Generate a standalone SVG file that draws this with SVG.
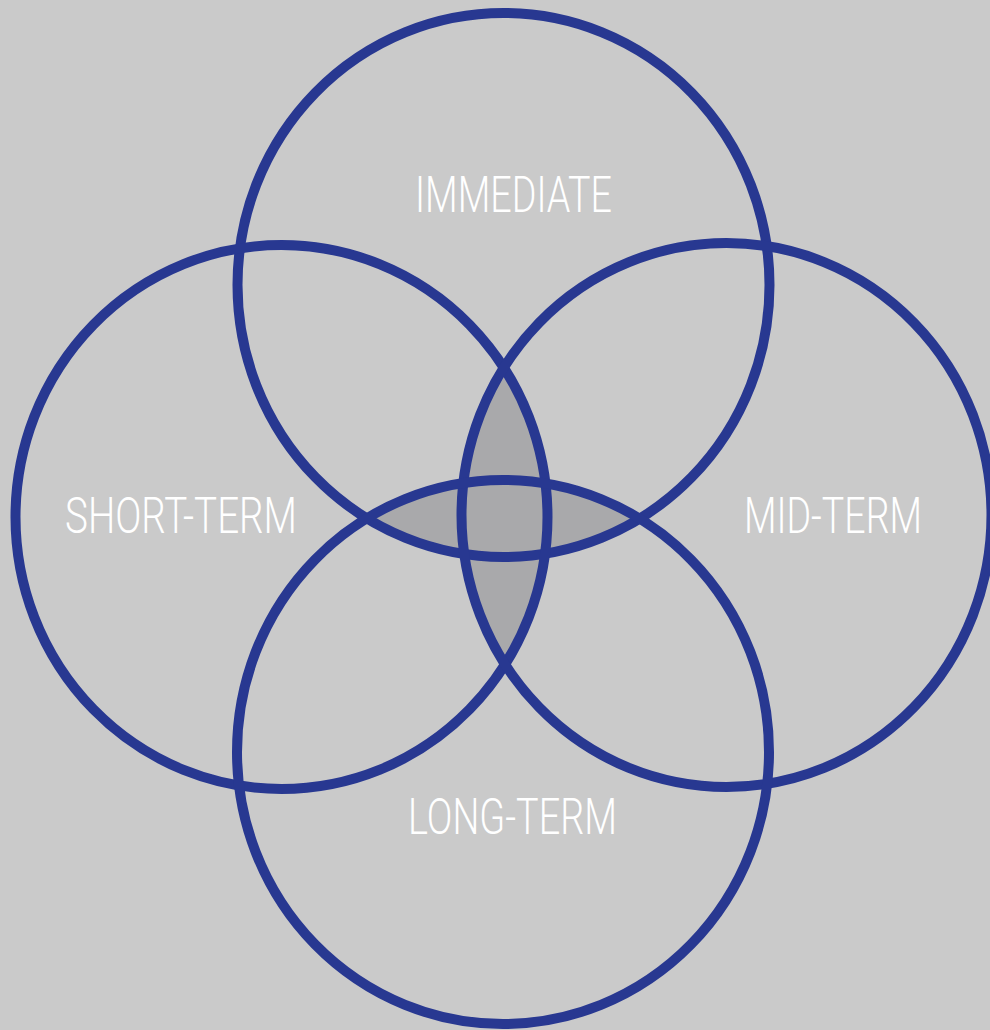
<svg xmlns="http://www.w3.org/2000/svg" width="990" height="1030" viewBox="0 0 990 1030">
<style>
.ring{fill:none;stroke:#283891;stroke-width:10}
.lens{fill:#a9a9ab}
.lbl{font-family:Roboto,"Open Sans","Liberation Sans",sans-serif;font-weight:300;font-size:50px;fill:#ffffff}
</style>
<defs>
<clipPath id="clipTop"><ellipse cx="503.5" cy="285" rx="266" ry="272"/></clipPath>
<clipPath id="clipLeft"><ellipse cx="281.5" cy="517" rx="266" ry="272"/></clipPath>
</defs>
<rect width="990" height="1030" fill="#cacaca"/>
<g id="overlap">
<ellipse class="lens" cx="503" cy="752" rx="266" ry="272" clip-path="url(#clipTop)"/>
<ellipse class="lens" cx="726.5" cy="515" rx="265" ry="272" clip-path="url(#clipLeft)"/>
</g>
<g id="connectors"></g>
<g id="immediate">
<ellipse class="ring" cx="503.5" cy="285" rx="266" ry="272"/>
<text class="lbl" x="415" y="212" textLength="197" lengthAdjust="spacingAndGlyphs">IMMEDIATE</text>
</g>
<g id="short-term">
<ellipse class="ring" cx="281.5" cy="517" rx="266" ry="272"/>
<text class="lbl" x="65" y="533" textLength="232" lengthAdjust="spacingAndGlyphs">SHORT-TERM</text>
</g>
<g id="mid-term">
<ellipse class="ring" cx="726.5" cy="515" rx="265" ry="272"/>
<text class="lbl" x="744" y="533" textLength="178" lengthAdjust="spacingAndGlyphs">MID-TERM</text>
</g>
<g id="long-term">
<ellipse class="ring" cx="503" cy="752" rx="266" ry="272"/>
<text class="lbl" x="408" y="834" textLength="209" lengthAdjust="spacingAndGlyphs">LONG-TERM</text>
</g>
</svg>
